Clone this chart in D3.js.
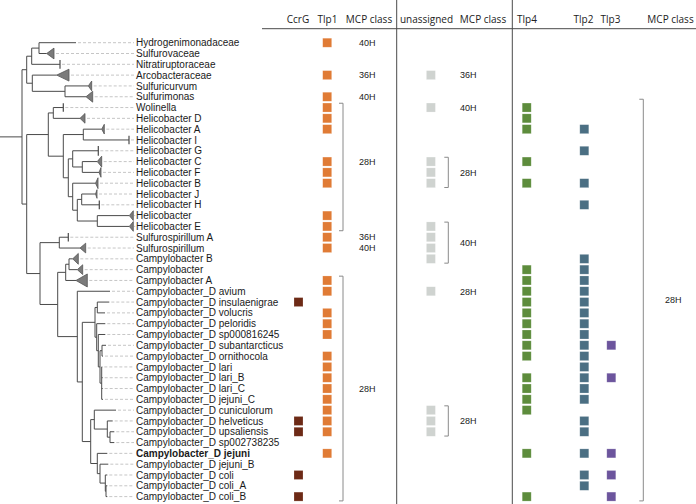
<!DOCTYPE html>
<html><head><meta charset="utf-8">
<script src="https://cdn.jsdelivr.net/npm/d3@7"></script>
<style>body{margin:0;background:#fff}svg{display:block}</style>
</head><body>
<svg id="c" width="696" height="504"></svg>
<script>
// ---------------- DATA ----------------
// Phylogeny (branch lengths in substitutions/site)
const treeNewick =
"(((('Hydrogenimonadaceae':0.37,'Sulfurovaceae':0.077):0.073,'Nitratiruptoraceae':0.283):0.05," +
"('Arcobacteraceae':0.244,('Sulfuricurvum':0.233,'Sulfurimonas':0.21):0.327):0.056):0.047," +
"(((('Wolinella':0.10,'Helicobacter D':0.267):0.05," +
"(('Helicobacter A':0.184,'Helicobacter I':0.457):0.20," +
"(('Helicobacter G':0.256,('Helicobacter C':0.15,'Helicobacter F':0.167):0.096):0.044," +
"('Helicobacter B':0.228,(('Helicobacter J':0.138,'Helicobacter H':0.176):0.044,('Helicobacter':0.32,'Helicobacter E':0.32):0.20):0.046):0.044):0.05):0.15):0.216)," +
"(('Sulfurospirillum A':0.09,'Sulfurospirillum':0.207):0.193," +
"((('Campylobacter B':0.037,'Campylobacter':0.083):0.033,'Campylobacter A':0.103):0.08," +
"('Campylobacter_D avium':0.327," +
"(((('Campylobacter_D insulaenigrae':0.12,'Campylobacter_D volucris':0.077):0.023," +
"('Campylobacter_D peloridis':0.086,('Campylobacter_D sp000816245':0.07," +
"(('Campylobacter_D subantarcticus':0.04,'Campylobacter_D ornithocola':0.01):0.02," +
"('Campylobacter_D lari':0.006,'Campylobacter_D lari_B':0.01,'Campylobacter_D lari_C':0.01,'Campylobacter_D jejuni_C':0.013):0.017):0.017):0.016):0.017):0.127)," +
"((('Campylobacter_D cuniculorum':0.217,('Campylobacter_D helveticus':0.054,('Campylobacter_D upsaliensis':0.043,'Campylobacter_D sp002738235':0.043):0.027):0.13):0.036," +
"('Campylobacter_D jejuni':0.10,('Campylobacter_D jejuni_B':0.083,('Campylobacter_D coli':0.02,('Campylobacter_D coli_A':0.013,'Campylobacter_D coli_B':0.013):0.007):0.053):0.027):0.066):0.084)):0.05):0.196):0.177):0.133):0.047);";

// Collapsed clades: [clade depth (subst./site), clade half-height (rows)]
const collapsedClades = {
  "Sulfurovaceae":[0.073,0.5], "Nitratiruptoraceae":[0,0.4], "Arcobacteraceae":[0.123,0.55],
  "Sulfuricurvum":[0.034,0.45], "Sulfurimonas":[0.067,0.5], "Wolinella":[0,0.4],
  "Helicobacter D":[0.05,0.45], "Helicobacter A":[0.026,0.45], "Helicobacter I":[0,0.4],
  "Helicobacter G":[0,0.45], "Helicobacter C":[0.044,0.5], "Helicobacter F":[0.02,0.45],
  "Helicobacter B":[0.025,0.5], "Helicobacter J":[0.015,0.4], "Helicobacter H":[0,0.4],
  "Helicobacter":[0.04,0.45], "Helicobacter E":[0.04,0.45], "Sulfurospirillum A":[0,0.4],
  "Sulfurospirillum":[0.057,0.45], "Campylobacter B":[0.056,0.5], "Campylobacter":[0.054,0.45],
  "Campylobacter A":[0.113,0.6]
};
const boldTaxa = ["Campylobacter_D jejuni"];

const headers = ["CcrG","Tlp1","MCP class","unassigned","MCP class","Tlp4","Tlp2","Tlp3","MCP class"];

const ccrG = ["Campylobacter_D insulaenigrae","Campylobacter_D helveticus","Campylobacter_D upsaliensis","Campylobacter_D coli","Campylobacter_D coli_B"];
const tlp1 = ["Hydrogenimonadaceae","Arcobacteraceae","Sulfurimonas","Wolinella","Helicobacter D","Helicobacter A","Helicobacter C","Helicobacter F","Helicobacter B","Helicobacter","Helicobacter E","Sulfurospirillum A","Sulfurospirillum","Campylobacter A","Campylobacter_D avium","Campylobacter_D volucris","Campylobacter_D peloridis","Campylobacter_D sp000816245","Campylobacter_D ornithocola","Campylobacter_D lari","Campylobacter_D lari_B","Campylobacter_D lari_C","Campylobacter_D jejuni_C","Campylobacter_D cuniculorum","Campylobacter_D helveticus","Campylobacter_D upsaliensis","Campylobacter_D jejuni"];
const unassigned = ["Arcobacteraceae","Wolinella","Helicobacter C","Helicobacter F","Helicobacter B","Helicobacter E","Sulfurospirillum A","Sulfurospirillum","Campylobacter B","Campylobacter_D avium","Campylobacter_D cuniculorum","Campylobacter_D helveticus","Campylobacter_D upsaliensis"];
const tlp4 = ["Wolinella","Helicobacter D","Helicobacter A","Helicobacter C","Helicobacter B","Campylobacter","Campylobacter A","Campylobacter_D avium","Campylobacter_D insulaenigrae","Campylobacter_D volucris","Campylobacter_D peloridis","Campylobacter_D sp000816245","Campylobacter_D subantarcticus","Campylobacter_D ornithocola","Campylobacter_D lari_B","Campylobacter_D lari_C","Campylobacter_D jejuni_C","Campylobacter_D cuniculorum","Campylobacter_D jejuni","Campylobacter_D coli_B"];
const tlp2 = ["Helicobacter A","Helicobacter G","Helicobacter B","Helicobacter H","Campylobacter B","Campylobacter","Campylobacter A","Campylobacter_D avium","Campylobacter_D insulaenigrae","Campylobacter_D volucris","Campylobacter_D peloridis","Campylobacter_D sp000816245","Campylobacter_D subantarcticus","Campylobacter_D ornithocola","Campylobacter_D lari","Campylobacter_D lari_B","Campylobacter_D lari_C","Campylobacter_D jejuni_C","Campylobacter_D helveticus","Campylobacter_D upsaliensis","Campylobacter_D jejuni","Campylobacter_D coli","Campylobacter_D coli_A"];
const tlp3 = ["Campylobacter_D subantarcticus","Campylobacter_D lari_B","Campylobacter_D jejuni","Campylobacter_D coli","Campylobacter_D coli_B"];

// MCP class annotations: [taxon, class]
const tlp1MCP = [["Hydrogenimonadaceae","40H"],["Arcobacteraceae","36H"],["Sulfurimonas","40H"],["Sulfurospirillum A","36H"],["Sulfurospirillum","40H"]];
const unassignedMCP = [["Arcobacteraceae","36H"],["Wolinella","40H"],["Campylobacter_D avium","28H"]];
// Bracketed groups: [first taxon, last taxon, label taxon (null = middle), class]
const tlp1Brackets = [["Wolinella","Helicobacter E","Helicobacter C","28H"],["Campylobacter A","Campylobacter_D coli_B","Campylobacter_D lari_C","28H"]];
const unassignedBrackets = [["Helicobacter C","Helicobacter B","Helicobacter F","28H"],["Helicobacter E","Campylobacter B",null,"40H"],["Campylobacter_D cuniculorum","Campylobacter_D upsaliensis","Campylobacter_D helveticus","28H"]];
const tlp4Brackets = [["Wolinella","Campylobacter_D coli_B",null,"28H"]];

// ---------------- RENDER ----------------
function parseNewick(s){
  let i=0;
  function node(){
    const n={children:[]};
    if(s[i]==='('){
      i++; n.children.push(node());
      while(s[i]===','){i++; n.children.push(node());}
      i++;
    }
    let name='';
    if(s[i]==="'"){i++; while(s[i]!=="'") name+=s[i++]; i++;}
    else { while(i<s.length && !',():;'.includes(s[i])) name+=s[i++]; }
    n.name=name.trim();
    n.length=0;
    if(s[i]===':'){i++; let num=''; while(i<s.length && !',();'.includes(s[i])) num+=s[i++]; n.length=+num;}
    if(!n.children.length) delete n.children;
    return n;
  }
  return node();
}

const svg = d3.select("#c");
const labelFont = "'Liberation Sans', Arial, sans-serif";
const headFont = "'Open Sans', 'Noto Sans', sans-serif";
const lineCol = "#4a4a4a";

const root = d3.hierarchy(parseNewick(treeNewick));
root.eachBefore(d => { d.dist = (d.parent ? d.parent.dist : 0) + (d.data.length || 0); });
const leaves = root.leaves();
const leafNames = leaves.map(d => d.data.name);

const y = d3.scalePoint().domain(leafNames).range([42.7, 496.6]);
const rowH = y.step();
const x = d3.scaleLinear().domain([0, 1]).range([22, 122]);

root.eachAfter(d => {
  d.py = d.children ? (d.children[0].py + d.children[d.children.length-1].py)/2 : y(d.data.name);
  d.px = x(d.dist);
});

const gTree = svg.append("g");
gTree.append("line").attr("x1",0).attr("x2",root.px).attr("y1",root.py).attr("y2",root.py)
  .attr("stroke",lineCol).attr("stroke-width",1);
gTree.selectAll("line.h").data(root.descendants().filter(d=>d.parent)).join("line")
  .attr("class","h")
  .attr("x1",d=>d.parent.px).attr("x2",d=>d.px).attr("y1",d=>d.py).attr("y2",d=>d.py)
  .attr("stroke",lineCol).attr("stroke-width",1);
gTree.selectAll("line.v").data(root.descendants().filter(d=>d.children)).join("line")
  .attr("class","v")
  .attr("x1",d=>d.px).attr("x2",d=>d.px)
  .attr("y1",d=>d.children[0].py).attr("y2",d=>d.children[d.children.length-1].py)
  .attr("stroke",lineCol).attr("stroke-width",1);

const labelX = 136;
leaves.forEach(d => {
  const c = collapsedClades[d.data.name];
  d.tipX = d.px;
  if(c){
    const x2 = x(d.dist + c[0]);
    const h = c[1]*rowH;
    d.tipX = x2;
    if(c[0] > 0){
      gTree.append("path")
        .attr("d", `M${d.px},${d.py}L${x2},${d.py-h}L${x2},${d.py+h}Z`)
        .attr("fill","#7b7b7b").attr("stroke","#555").attr("stroke-width",0.8);
    } else {
      gTree.append("line").attr("x1",d.px).attr("x2",d.px)
        .attr("y1",d.py-h).attr("y2",d.py+h).attr("stroke",lineCol).attr("stroke-width",1.2);
    }
  }
});
gTree.selectAll("line.lead").data(leaves).join("line")
  .attr("x1",d=>d.tipX+2).attr("x2",labelX-2).attr("y1",d=>d.py).attr("y2",d=>d.py)
  .attr("stroke","#b8b8b8").attr("stroke-width",0.8).attr("stroke-dasharray","3,2");
svg.append("g").selectAll("text").data(leaves).join("text")
  .attr("x",labelX).attr("y",d=>d.py).attr("dy","0.36em")
  .attr("font-family",labelFont).attr("font-size",10)
  .attr("font-weight",d=>boldTaxa.includes(d.data.name)?"bold":"normal")
  .attr("fill","#1a1a1a").text(d=>d.data.name);

// ---- annotation columns ----
const headerX = [298, 327.5, 369, 426.5, 483, 527, 583.5, 610.5, 670.5];
svg.append("g").selectAll("text").data(headers).join("text")
  .attr("x",(d,i)=>headerX[i]).attr("y",23).attr("text-anchor","middle")
  .attr("font-family",headFont).attr("font-size",10).attr("fill","#222").text(d=>d);

svg.append("line").attr("x1",262).attr("x2",696).attr("y1",28.7).attr("y2",28.7).attr("stroke",lineCol).attr("stroke-width",1);
[396.7, 512.3].forEach(xx => svg.append("line").attr("x1",xx).attr("x2",xx).attr("y1",0).attr("y2",504).attr("stroke",lineCol).attr("stroke-width",1));

const sq = 9;
function squares(list, cx, color){
  svg.append("g").selectAll("rect").data(list).join("rect")
    .attr("x",cx-sq/2).attr("y",d=>y(d)-sq/2).attr("width",sq).attr("height",sq)
    .attr("fill",color).attr("stroke","#fff").attr("stroke-opacity",0.35).attr("stroke-width",0.6);
}
squares(ccrG, 298.5, "#6d2a16");
squares(tlp1, 327.2, "#e07b35");
squares(unassigned, 430.9, "#cfd3d0");
squares(tlp4, 526.7, "#5d8c3c");
squares(tlp2, 584.3, "#4b6f83");
squares(tlp3, 611.3, "#6c559d");

const mcpSize = 9;
const mcpFont = "'Liberation Sans', Arial, sans-serif";
function mcpLabels(list, lx){
  svg.append("g").selectAll("text").data(list).join("text")
    .attr("x",lx).attr("y",d=>y(d[0])).attr("dy","0.36em")
    .attr("font-family",mcpFont).attr("font-size",mcpSize).attr("fill","#222").text(d=>d[1]);
}
function brackets(list, bx, lx, padTop){
  const g = svg.append("g");
  list.forEach(b => {
    const y1 = y(b[0]) - 4.3 - (padTop||0), y2 = y(b[1]) + 4.3;
    g.append("path").attr("d",`M${bx-4},${y1}H${bx}V${y2}H${bx-4}`)
      .attr("fill","none").attr("stroke","#8a8a8a").attr("stroke-width",1);
    const ly = b[2] ? y(b[2]) : (y1+y2)/2;
    g.append("text").attr("x",lx).attr("y",ly).attr("dy","0.36em")
      .attr("font-family",mcpFont).attr("font-size",mcpSize).attr("fill","#222").text(b[3]);
  });
}
mcpLabels(tlp1MCP, 359);
mcpLabels(unassignedMCP, 460);
brackets(tlp1Brackets, 343, 359, 0);
brackets(unassignedBrackets, 448.3, 460, 0);
brackets(tlp4Brackets, 643.3, 665, 4);
</script>
</body></html>
